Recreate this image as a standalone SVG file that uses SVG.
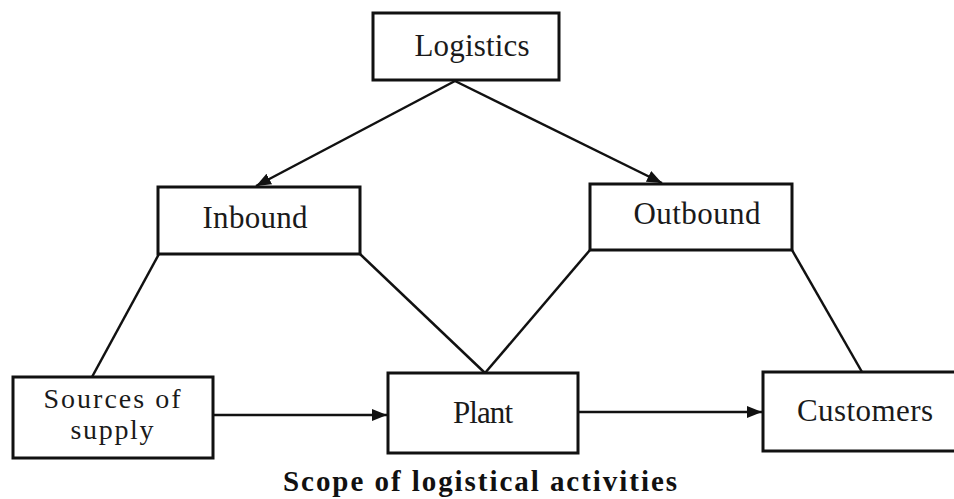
<svg xmlns="http://www.w3.org/2000/svg" width="954" height="499" viewBox="0 0 954 499">
<style>
.box{fill:#fff;stroke:#111;stroke-width:3}
.lbl{font-family:"Liberation Serif","Times New Roman",serif;font-size:31px;fill:#1a1a1a;text-anchor:middle}
.two{font-size:28px}
.ln{stroke:#111;stroke-width:2.5;fill:none}
.cap{font-family:"Liberation Serif","Times New Roman",serif;font-size:29px;font-weight:bold;fill:#111;text-anchor:middle}
</style>
<defs>
<marker id="ah" viewBox="0 0 10 10" refX="10" refY="5" markerWidth="6" markerHeight="6" orient="auto" markerUnits="strokeWidth">
<path d="M0,1 L10,5 L0,9 z" fill="#111"/>
</marker>
</defs>
<rect width="954" height="499" fill="#fff"/>
<g id="connectors">
<line class="ln" x1="455" y1="81" x2="256" y2="186" marker-end="url(#ah)"/>
<line class="ln" x1="455" y1="81" x2="662" y2="183" marker-end="url(#ah)"/>
<line class="ln" x1="159" y1="254" x2="92" y2="377"/>
<line class="ln" x1="360" y1="254" x2="485" y2="373"/>
<line class="ln" x1="590" y1="250" x2="485" y2="373"/>
<line class="ln" x1="792" y1="250" x2="862" y2="372"/>
<line class="ln" x1="213" y1="415" x2="387" y2="415" marker-end="url(#ah)"/>
<line class="ln" x1="578" y1="412" x2="762" y2="412" marker-end="url(#ah)"/>
</g>
<g id="logistics">
<rect class="box" x="373" y="13" width="186" height="67"/>
<text class="lbl" x="472" y="56" textLength="115">Logistics</text>
</g>
<g id="inbound">
<rect class="box" x="158" y="187" width="202" height="67"/>
<text class="lbl" x="255" y="228" textLength="105">Inbound</text>
</g>
<g id="outbound">
<rect class="box" x="590" y="184" width="202" height="66"/>
<text class="lbl" x="697" y="224" textLength="127">Outbound</text>
</g>
<g id="sources">
<rect class="box" x="13" y="377" width="200" height="81"/>
<text class="lbl two" x="112" y="408" textLength="137">Sources of</text>
<text class="lbl two" x="112" y="439" textLength="83">supply</text>
</g>
<g id="plant">
<rect class="box" x="388" y="373" width="190" height="80"/>
<text class="lbl" x="483" y="423" textLength="60">Plant</text>
</g>
<g id="customers">
<rect class="box" x="763" y="372" width="194" height="79"/>
<text class="lbl" x="865" y="421" textLength="136">Customers</text>
</g>
<text class="cap" x="480" y="491" textLength="394">Scope of logistical activities</text>
</svg>
